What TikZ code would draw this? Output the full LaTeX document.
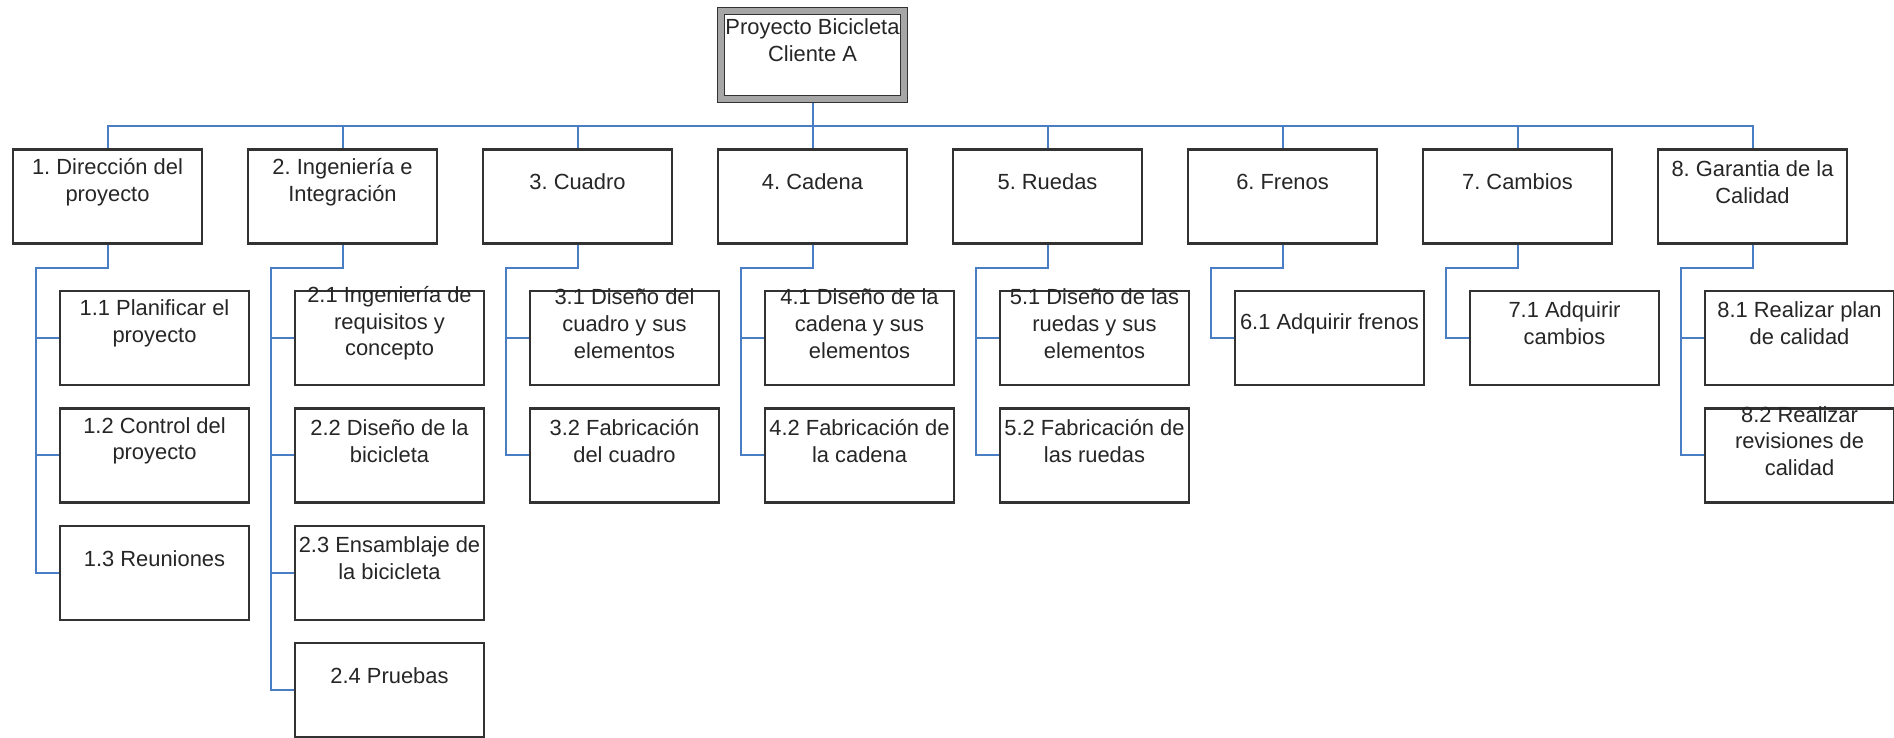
\documentclass[tikz,border=0pt]{standalone}
\usepackage{fontspec}
\setmainfont{Liberation Sans}
\usetikzlibrary{positioning,backgrounds}
\frenchspacing

\definecolor{linea}{RGB}{74,126,196}
\definecolor{borde}{RGB}{50,50,50}

\tikzset{
  txt/.style={align=center, inner sep=0pt, text=black!85,
    font=\fontsize{10.95}{13.35}\selectfont},
  caja/.style={draw=borde, line width=1.1pt, fill=white, inner sep=0pt,
    minimum width=94.5pt, minimum height=47pt,
    label={[txt,yshift=7.25pt]center:#1}},
  rama/.style={draw=linea, line width=1pt},
}

\begin{document}
\begin{tikzpicture}[x=0.5pt,y=-0.5pt]
\useasboundingbox (0,0) rectangle (1894,738);

% raiz
\node[caja={Proyecto Bicicleta\\Cliente A}, minimum width=91.5pt, minimum height=44pt,
  line width=0.7pt, double=gray!70, double distance=2.6pt] (r) at (812.5,55) {};

% primer nivel
\foreach \p/\etq in {1/{1. Dirección del\\proyecto}, 2/{2. Ingeniería e\\Integración},
  3/{3. Cuadro}, 4/{4. Cadena}, 5/{5. Ruedas}, 6/{6. Frenos}, 7/{7. Cambios},
  8/{8. Garantia de la\\Calidad}}
  \node[caja=\etq] (n\p) at ({107.5+235*(\p-1)},196.5) {};

% segundo nivel
\foreach \p/\h/\etq in {1/1/{1.1 Planificar el\\proyecto}, 1/2/{1.2 Control del\\proyecto},
  1/3/{1.3 Reuniones},
  2/1/{2.1 Ingeniería de\\requisitos y\\concepto}, 2/2/{2.2 Diseño de la\\bicicleta},
  2/3/{2.3 Ensamblaje de\\la bicicleta}, 2/4/{2.4 Pruebas},
  3/1/{3.1 Diseño del\\cuadro y sus\\elementos}, 3/2/{3.2 Fabricación\\del cuadro},
  4/1/{4.1 Diseño de la\\cadena y sus\\elementos}, 4/2/{4.2 Fabricación de\\la cadena},
  5/1/{5.1 Diseño de las\\ruedas y sus\\elementos}, 5/2/{5.2 Fabricación de\\las ruedas},
  6/1/{6.1 Adquirir frenos},
  7/1/{7.1 Adquirir\\cambios},
  8/1/{8.1 Realizar plan\\de calidad}, 8/2/{8.2 Realizar\\revisiones de\\calidad}}
  \node[caja=\etq] (n\p\h) at ({154.5+235*(\p-1)},{338+117.4*(\h-1)}) {};

\begin{scope}[on background layer]
\coordinate (bus) at (0,126);
\draw[rama] (r.south) -- (r.south |- bus);
\draw[rama] (n1.north) -- (n1.north |- bus) -- (n8.north |- bus) -- (n8.north);
\foreach \p in {2,...,7}
  \draw[rama] (n\p.north) -- (n\p.north |- bus);

\foreach \p/\u in {1/3,2/4,3/2,4/2,5/2,6/1,7/1,8/2}{
  \draw[rama] (n\p.south) -- ++(0,23) -| ([xshift=12pt]n\p.west |- n\p\u.west) -- (n\p\u.west);
  \foreach \h in {1,...,\u}
    \draw[rama] (n\p\h.west) -- ++(-23,0);
}
\end{scope}
\end{tikzpicture}
\end{document}
